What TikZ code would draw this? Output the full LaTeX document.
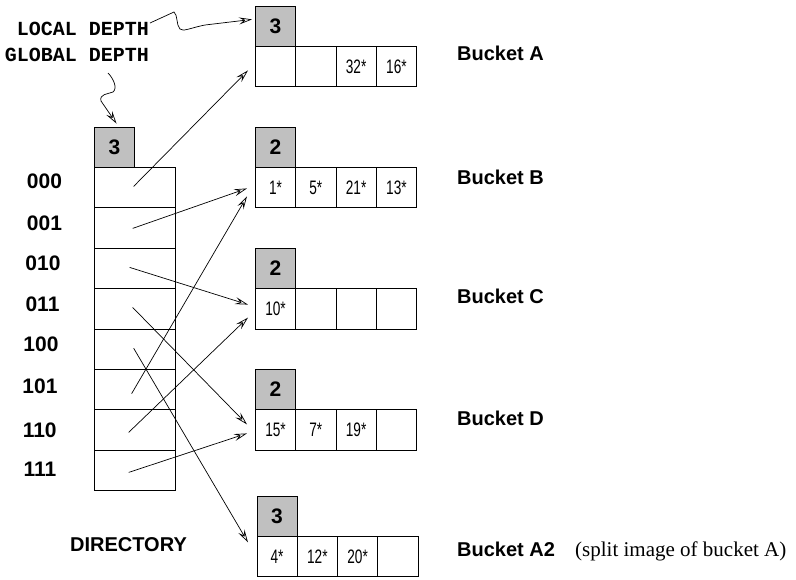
\documentclass[tikz,border=0pt]{standalone}
\usepackage{fontspec}
\setmainfont{Liberation Serif}
\setsansfont{Liberation Sans}
\setmonofont{Liberation Mono}
\newfontfamily\narrowfont[FakeStretch=0.7]{Liberation Sans}
\usetikzlibrary{arrows.meta}
\definecolor{hdrgray}{RGB}{192,192,192}
\begin{document}
\begin{tikzpicture}[x=1pt,y=-1pt,
  cell/.style={draw=black, line width=0.8pt, minimum width=40.3pt, minimum height=40.4pt, inner sep=0pt, anchor=north west, font=\narrowfont\fontsize{19.5}{19.5}\selectfont},
  hdr/.style={cell, fill=hdrgray, font=\sffamily\bfseries\fontsize{21}{21}\selectfont},
  dircell/.style={cell, minimum width=80.5pt},
  ptr/.style={line width=0.7pt, -{Stealth[open,length=13pt,width=7pt,inset=5pt]}},
  lbl/.style={font=\sffamily\bfseries\fontsize{20}{20}\selectfont, inner sep=0pt},
  rowl/.style={font=\sffamily\bfseries\fontsize{21}{21}\selectfont, inner sep=0pt, anchor=base},
  mono/.style={font=\ttfamily\bfseries\fontsize{20}{20}\selectfont, inner sep=0pt},
  serif/.style={font=\rmfamily\fontsize{21}{21}\selectfont, inner sep=0pt}]
\useasboundingbox (0,0) rectangle (796,579);
\fill[white] (0,0) rectangle (796,579);

% Directory
\node[hdr] (gd) at (94,126.6) {3};
\node[dircell] (d0) at (94,167.0) {};
\node[dircell] (d1) at (94,207.4) {};
\node[dircell] (d2) at (94,247.8) {};
\node[dircell] (d3) at (94,288.2) {};
\node[dircell] (d4) at (94,328.6) {};
\node[dircell] (d5) at (94,369.0) {};
\node[dircell] (d6) at (94,409.4) {};
\node[dircell] (d7) at (94,449.8) {};

% Row labels
\node[rowl] (r0) at (44.5,188) {000};
\node[rowl] (r1) at (44.5,230) {001};
\node[rowl] (r2) at (43,270) {010};
\node[rowl] (r3) at (42.5,311.5) {011};
\node[rowl] (r4) at (41,351.5) {100};
\node[rowl] (r5) at (40,393) {101};
\node[rowl] (r6) at (39.7,437) {110};
\node[rowl] (r7) at (40,476.5) {111};
\node[lbl, anchor=base] (dirl) at (128.5,551.5) {DIRECTORY};

% Bucket A
\node[hdr] (Ah) at (255,5.6) {3};
\node[cell] (A1) at (255,46) {};
\node[cell] (A2) at (295.3,46) {};
\node[cell] (A3) at (335.6,46) {32*};
\node[cell] (A4) at (375.9,46) {16*};
% Bucket B
\node[hdr] (Bh) at (255,126.6) {2};
\node[cell] (B1) at (255,167) {1*};
\node[cell] (B2) at (295.3,167) {5*};
\node[cell] (B3) at (335.6,167) {21*};
\node[cell] (B4) at (375.9,167) {13*};
% Bucket C
\node[hdr] (Ch) at (255,247.8) {2};
\node[cell] (C1) at (255,288.2) {10*};
\node[cell] (C2) at (295.3,288.2) {};
\node[cell] (C3) at (335.6,288.2) {};
\node[cell] (C4) at (375.9,288.2) {};
% Bucket D
\node[hdr] (Dh) at (255,369) {2};
\node[cell] (D1) at (255,409.4) {15*};
\node[cell] (D2) at (295.3,409.4) {7*};
\node[cell] (D3) at (335.6,409.4) {19*};
\node[cell] (D4) at (375.9,409.4) {};
% Bucket A2
\node[hdr] (Eh) at (256.5,495.6) {3};
\node[cell] (E1) at (256.5,536) {4*};
\node[cell] (E2) at (296.8,536) {12*};
\node[cell] (E3) at (337.1,536) {20*};
\node[cell] (E4) at (377.4,536) {};

% Bucket labels
\node[lbl, anchor=base west] (la) at (457,60.7) {Bucket A};
\node[lbl, anchor=base west] (lb) at (457,184) {Bucket B};
\node[lbl, anchor=base west] (lc) at (457,303) {Bucket C};
\node[lbl, anchor=base west] (ldd) at (457,425) {Bucket D};
\node[lbl, anchor=base west] (le) at (457,556) {Bucket A2};
\node[serif, anchor=base west] (split) at (575,556) {(split image of bucket A)};

% Depth labels
\node[mono, anchor=base east] (ld) at (149,35) {LOCAL DEPTH};
\node[mono, anchor=base east] (gl) at (149,61.7) {GLOBAL DEPTH};
\coordinate (lds) at (150,23);
\coordinate (gds) at (108,73);

\draw[ptr] (lds) -- (174,12) .. controls (178,15) and (176,25) .. (180,29)
  .. controls (183,32) and (190,28) .. (205,25) -- ([shift={(-3,-6.8)}]Ah.west);
\draw[ptr] (gds) .. controls (113,78) and (118,88) .. (113,92)
  .. controls (108,94) and (99,94) .. (101,101) -- ([shift={(2,-3)}]gd.north);

% Directory pointers
\draw[ptr] ([shift={(-1,-1.2)}]d0.center) -- ([shift={(-7,3.8)}]A1.west);
\draw[ptr] ([shift={(-2,0.4)}]d1.center) -- ([shift={(-8,0.8)}]B1.west);
\draw[ptr] ([shift={(-5,-1)}]d2.center) -- ([shift={(-7,-4.2)}]C1.west);
\draw[ptr] ([shift={(-2,-1.4)}]d3.center) -- ([shift={(-8,-5.6)}]D1.west);
\draw[ptr] ([shift={(-1,-1)}]d4.center) -- ([shift={(-8.5,-14.2)}]E1.west);
\draw[ptr] ([shift={(-3,4)}]d5.center) -- ([shift={(-8,8.8)}]B1.west);
\draw[ptr] ([shift={(-6,2.4)}]d6.center) -- ([shift={(-7,8.8)}]C1.west);
\draw[ptr] ([shift={(-6,2)}]d7.center) -- ([shift={(-8,3.4)}]D1.west);
\end{tikzpicture}
\end{document}
